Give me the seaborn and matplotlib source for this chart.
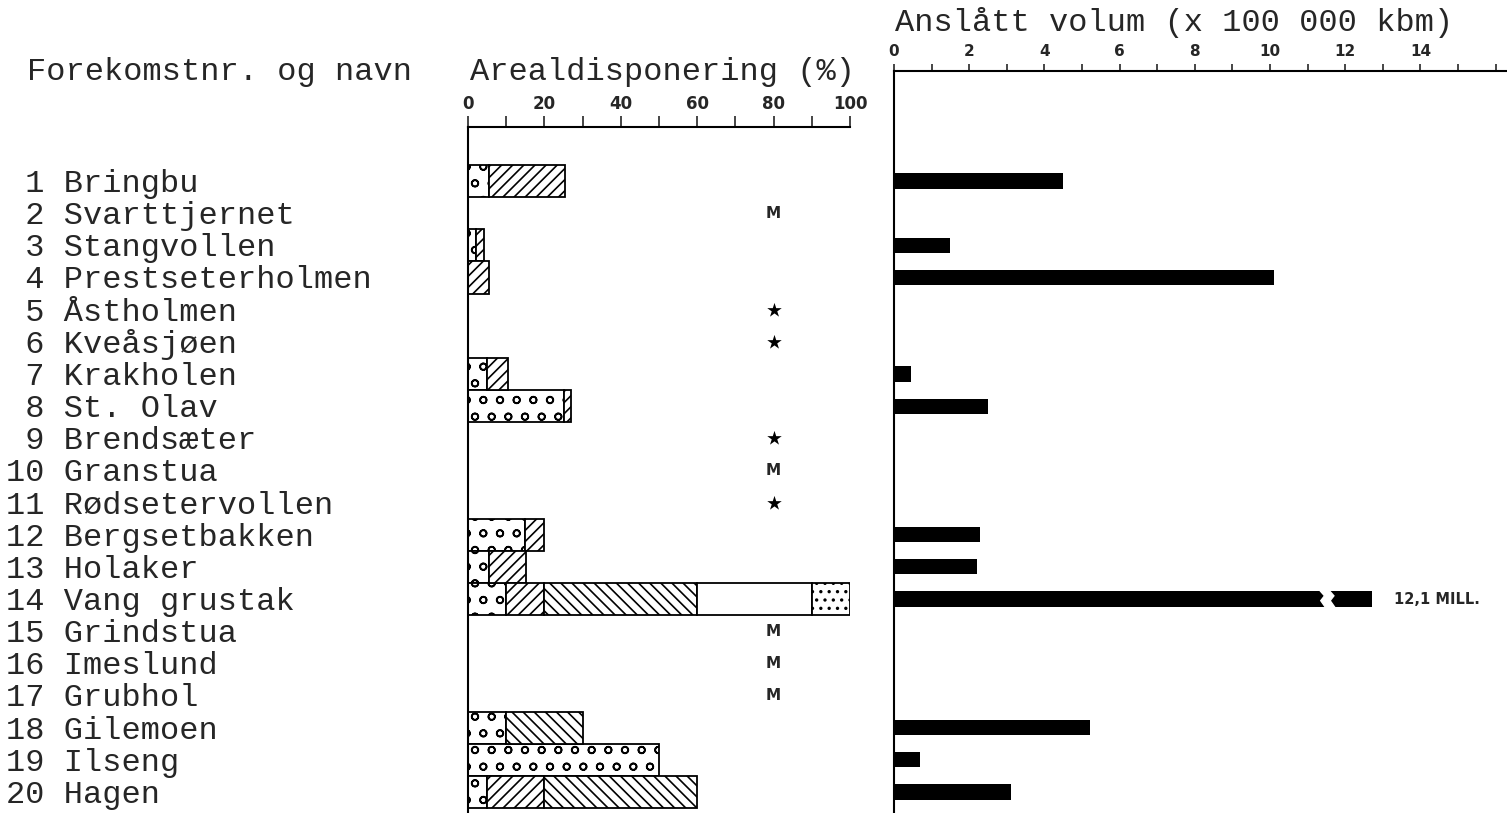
import numpy as np
import pandas as pd
import matplotlib.pyplot as plt
import matplotlib.transforms as mtransforms
from matplotlib.ticker import MultipleLocator
import seaborn as sns

# deposit number and name
numbers = list(range(1, 21))
names = ["Bringbu", "Svarttjernet", "Stangvollen", "Prestseterholmen", "Åstholmen",
         "Kveåsjøen", "Krakholen", "St. Olav", "Brendsæter", "Granstua",
         "Rødsetervollen", "Bergsetbakken", "Holaker", "Vang grustak", "Grindstua",
         "Imeslund", "Grubhol", "Gilemoen", "Ilseng", "Hagen"]

# area use in percent, one list per pattern (stacked left to right)
pebbles = [5.5, 0, 2, 0, 0, 0, 5, 25, 0, 0, 0, 15, 5.5, 10, 0, 0, 0, 10, 50, 5]
fwd_hatch = [20, 0, 2.2, 5.5, 0, 0, 5.5, 2, 0, 0, 0, 5, 9.7, 10, 0, 0, 0, 0, 0, 15]
back_hatch = [0, 0, 0, 0, 0, 0, 0, 0, 0, 0, 0, 0, 0, 40, 0, 0, 0, 20, 0, 40]
blank = [0, 0, 0, 0, 0, 0, 0, 0, 0, 0, 0, 0, 0, 30, 0, 0, 0, 0, 0, 0]
dotted = [0, 0, 0, 0, 0, 0, 0, 0, 0, 0, 0, 0, 0, 10, 0, 0, 0, 0, 0, 0]

# marks for deposits without bars (M / star) at 80 %
marks = ["", "M", "", "", "*", "*", "", "", "*", "M", "*", "", "", "",
         "M", "M", "M", "", "", ""]
mark_at = 80

# estimated volume (x 100 000 kbm); Vang grustak is drawn broken (12,1 mill.)
volume = [4.5, np.nan, 1.5, 10.1, np.nan, np.nan, 0.45, 2.5, np.nan, np.nan,
          np.nan, 2.3, 2.2, 12.7, np.nan, np.nan, np.nan, 5.2, 0.7, 3.1]
volume_note = "12,1 MILL."
break_at = 11.3

sns.set_theme(style="white")
plt.rcParams["hatch.linewidth"] = 1.2
plt.rcParams["font.family"] = ["DejaVu Sans"]
mono = "Liberation Mono"

W, H = 1507, 813
fig = plt.figure(figsize=(W / 100, H / 100), dpi=100)

row0, step = 181, 32.16   # pixel y of first row, row spacing
def ylim_for(top_px):
    return (19 + (H - 792) / step, -(row0 - top_px) / step)

# ---- middle panel: area use ----
ax = fig.add_axes([468 / W, 0, (850 - 468) / W, 1 - 127 / H])
pos = np.arange(len(names))
segments = [(pebbles, "o"), (fwd_hatch, "///"), (back_hatch, "\\\\\\"),
            (blank, ""), (dotted, "..")]
left = np.zeros(len(names))
for vals, hatch in segments:
    vals = np.array(vals, dtype=float)
    keep = vals > 0
    ax.barh(pos[keep], vals[keep], left=left[keep], height=1.0, color="white",
            edgecolor="black", linewidth=1.3, hatch=hatch)
    left += vals

star_rows = [i for i, m in enumerate(marks) if m == "*"]
sns.scatterplot(x=[mark_at] * len(star_rows), y=star_rows, marker="*", s=120,
                color="black", linewidth=0, ax=ax, legend=False)
for i, m in enumerate(marks):
    if m == "M":
        ax.text(mark_at, i, "M", ha="center", va="center", fontsize=11,
                fontweight="bold")

ax.set_xlim(0, 100)
ax.set_ylim(*ylim_for(127))
ax.xaxis.tick_top()
ax.xaxis.set_major_locator(MultipleLocator(20))
ax.xaxis.set_minor_locator(MultipleLocator(10))
ax.tick_params(axis="x", which="both", direction="out", length=8, width=1.2,
               top=True, bottom=False, pad=2, labelsize=12)
for lab in ax.get_xticklabels():
    lab.set_fontweight("bold")
ax.set_yticks([])
ax.set_xlabel("")
ax.set_ylabel("")
for s in ["right", "bottom"]:
    ax.spines[s].set_visible(False)
for s in ["top", "left"]:
    ax.spines[s].set_color("black")
    ax.spines[s].set_linewidth(1.5)

# ---- right panel: volume ----
axr = fig.add_axes([894 / W, 0, (W - 894) / W, 1 - 71 / H])
df = pd.DataFrame({"name": names, "volume": volume}).dropna()
sns.barplot(data=df, x="volume", y="name", order=names, orient="h",
            color="black", width=0.47, linewidth=0, saturation=1, ax=axr)
vi = names.index("Vang grustak")
bx = [break_at, break_at + 0.15, break_at + 0.05, break_at + 0.2,
      break_at + 0.45, break_at + 0.3, break_at + 0.4, break_at + 0.25]
by = [vi - 0.3, vi - 0.1, vi + 0.05, vi + 0.3, vi + 0.3, vi + 0.05, vi - 0.1, vi - 0.3]
axr.fill(bx, by, color="white", zorder=5)
axr.text(13.3, vi, volume_note, ha="left", va="center", fontsize=10.5,
         fontweight="bold")

axr.set_xlim(0, (W - 894) / 37.6)
axr.set_ylim(*ylim_for(71))
axr.xaxis.tick_top()
axr.xaxis.set_major_locator(MultipleLocator(2))
axr.xaxis.set_minor_locator(MultipleLocator(1))
axr.set_xticks(np.arange(0, 15, 2))
axr.tick_params(axis="x", which="both", direction="out", length=5, width=1.2,
                top=True, bottom=False, pad=4, labelsize=11)
for lab in axr.get_xticklabels():
    lab.set_fontweight("bold")
axr.set_yticks([])
axr.set_xlabel("")
axr.set_ylabel("")
for s in ["right", "bottom"]:
    axr.spines[s].set_visible(False)
for s in ["top", "left"]:
    axr.spines[s].set_color("black")
    axr.spines[s].set_linewidth(1.5)

# ---- names and headings ----
trans = mtransforms.blended_transform_factory(fig.transFigure, ax.transData)
for i, (n, name) in enumerate(zip(numbers, names)):
    fig.text(6 / W, i + 0.34, f"{n:>2} {name}", transform=trans, ha="left",
             va="baseline", family=mono, fontsize=23)

fig.text(27 / W, 1 - 80 / H, "Forekomstnr. og navn", family=mono, fontsize=23,
         va="baseline")
fig.text(470 / W, 1 - 80 / H, "Arealdisponering (%)", family=mono, fontsize=23,
         va="baseline")
fig.text(895 / W, 1 - 31 / H, "Anslått volum (x 100 000 kbm)", family=mono,
         fontsize=23, va="baseline")

fig.savefig("out.png", dpi=100, facecolor="white")
